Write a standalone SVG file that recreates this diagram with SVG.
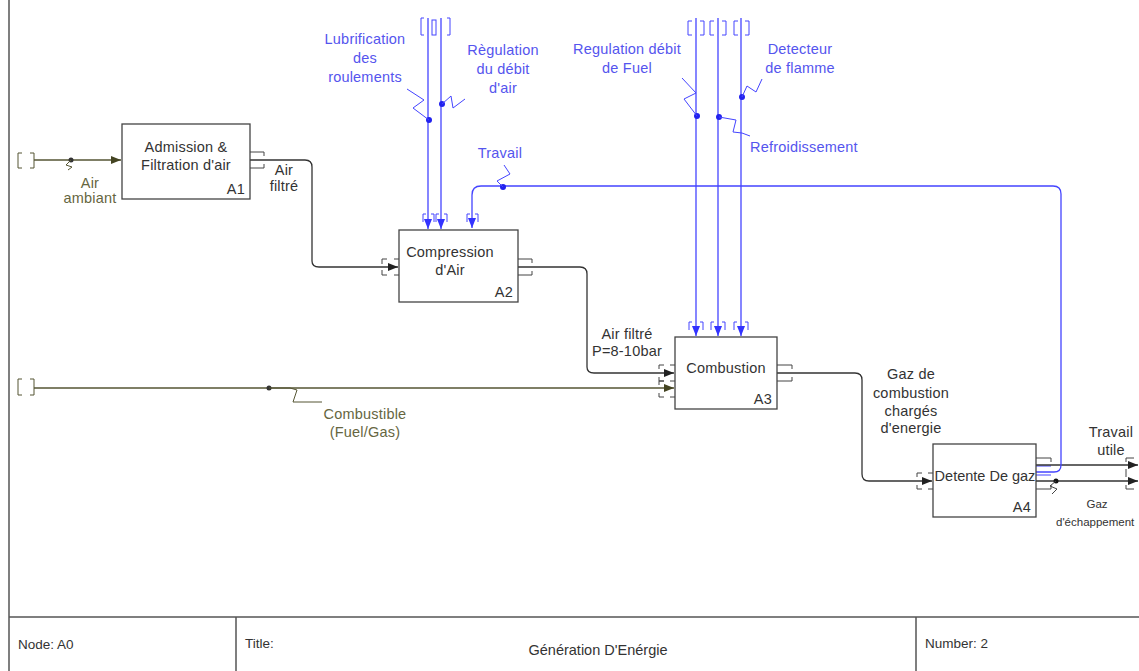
<svg xmlns="http://www.w3.org/2000/svg" width="1139" height="671" viewBox="0 0 1139 671">
<style>
text{font-family:"Liberation Sans",Arial,sans-serif;font-size:14.5px;letter-spacing:0.2px;}
.t{fill:#333;text-anchor:middle;}
.b{fill:#5555ee;text-anchor:middle;}
.o{fill:#66663f;text-anchor:middle;}
.s{font-size:13.5px;letter-spacing:0;fill:#333;}
.box{fill:#fff;stroke:#444;stroke-width:1.3;}
.k{fill:none;stroke:#333;stroke-width:1.3;}
.bl{fill:none;stroke:#4444ff;stroke-width:1.3;}
.ol{fill:none;stroke:#555533;stroke-width:1.5;}
.bk{fill:none;stroke:#444;stroke-width:1;}
.bb{fill:none;stroke:#4444ff;stroke-width:1;}
.bo{fill:none;stroke:#555533;stroke-width:1;}
.fr{fill:none;stroke:#555;stroke-width:1.5;}
</style>
<defs>
<marker id="ak" markerWidth="10" markerHeight="8" refX="10" refY="4" orient="auto" markerUnits="userSpaceOnUse"><path d="M0,0 L10,4 L0,8 Z" fill="#222"/></marker>
<marker id="ab" markerWidth="10" markerHeight="8" refX="10" refY="4" orient="auto" markerUnits="userSpaceOnUse"><path d="M0,0 L10,4 L0,8 Z" fill="#3333ff"/></marker>
<marker id="ao" markerWidth="10" markerHeight="8" refX="10" refY="4" orient="auto" markerUnits="userSpaceOnUse"><path d="M0,0 L10,4 L0,8 Z" fill="#444422"/></marker>
</defs>

<g id="frame">
<line class="fr" x1="9" y1="0" x2="9" y2="671"/>
<line class="fr" x1="9" y1="617" x2="1139" y2="617"/>
<line class="fr" x1="236" y1="617" x2="236" y2="671"/>
<line class="fr" x1="916" y1="617" x2="916" y2="671"/>
<text class="s" x="18" y="649">Node:  A0</text>
<text class="s" x="245" y="648">Title:</text>
<text class="s" x="598" y="655" style="font-size:14.5px;text-anchor:middle">Génération D'Enérgie</text>
<text class="s" x="925" y="648">Number: 2</text>
</g>

<g id="connectors">
<!-- Air ambiant -->
<path class="bo" d="M22,153 h-4 v15 h4 M30,153 h4 v15 h-4"/>
<path class="ol" d="M34,160 H121" marker-end="url(#ao)"/>
<circle cx="71" cy="160" r="2.5" fill="#333"/>
<path class="bo" d="M71,160 L66,165 L72,167 L68,170"/>
<!-- Air filtre A1->A2 -->
<path class="bk" d="M250,152 h14 v4 M250,168 h14 v-4"/>
<path class="k" d="M250,160 H305 Q312,160 312,167 V261 Q312,267 319,267 H398" marker-end="url(#ak)"/>
<path class="bk" d="M387,259 h-5 v5 M387,275 h-5 v-5 M394,259 h5 M394,275 h5"/>
<!-- A2 -> A3 -->
<path class="bk" d="M518,259 h14 v4 M518,275 h14 v-4"/>
<path class="k" d="M518,267 H580 Q587,267 587,274 V367 Q587,373 594,373 H674" marker-end="url(#ak)"/>
<path class="bk" d="M664,365 h-5 v4 M664,381 h-5 v-4 M670,365 h5 M670,381 h5 M664,381 h-5 v4 M664,397 h-5 v-4 M670,397 h5"/>
<!-- Combustible -->
<path class="bo" d="M22,379 h-4 v16 h4 M30,379 h4 v16 h-4"/>
<path class="ol" d="M34,388 H674" marker-end="url(#ao)"/>
<circle cx="269" cy="388" r="2.5" fill="#333"/>
<path class="bo" d="M269,388 H290 L297,390 L293,402 H322"/>
<!-- A3 -> A4 -->
<path class="bk" d="M777,365 h15 v4 M777,381 h15 v-4"/>
<path class="k" d="M777,373 H855 Q862,373 862,380 V474 Q862,481 869,481 H932" marker-end="url(#ak)"/>
<path class="bk" d="M922,473 h-5 v4 M922,489 h-5 v-4 M928,473 h5 M928,489 h5"/>
<!-- A4 outputs -->
<path class="bk" d="M1036,458 h15 v4 M1036,489 h15 v-4"/>
<path class="bb" d="M1036,466 h15 M1036,475 h15"/>
<path class="k" d="M1036,465 H1138" marker-end="url(#ak)"/>
<path class="k" d="M1036,481 H1138" marker-end="url(#ak)"/>
<path class="bk" d="M1126,458 h8 M1126,458 v4 M1126,489 h8 M1126,489 v-4 M1126,473 v-4 M1126,473 v4"/>
<circle cx="1056" cy="481" r="2.5" fill="#111"/>
<path class="bk" d="M1056,481 L1050,486 L1057,489 L1052,494"/>
<!-- Travail (blue feedback) -->
<path class="bl" d="M1036,472 H1054 Q1061,472 1061,465 V194 Q1061,186 1053,186 H481 Q472,186 472,195 V228" marker-end="url(#ab)"/>
<circle cx="503" cy="187" r="3" fill="#2222ee"/>
<path class="bb" d="M503,187 L497,181 L510,174 L504,165"/>
<path class="bb" d="M467,222 v-8 h3 M478,222 v-8 h-3"/>
<!-- A2 controls -->
<path class="bb" d="M424,18 h-3 v17 h3 M447,18 h3 v17 h-3"/>
<rect x="432" y="20" width="4" height="15" fill="none" stroke="#4444ff" stroke-width="1"/>
<path class="bl" d="M428,18 V229" marker-end="url(#ab)"/>
<path class="bl" d="M441,18 V229" marker-end="url(#ab)"/>
<path class="bb" d="M423,222 v-8 h3 M434,222 v-8 h-3 M436,222 v-8 h3 M447,222 v-8 h-3"/>
<circle cx="429" cy="120" r="3" fill="#2222ee"/>
<path class="bb" d="M407,89 L424,100 L413,108 L429,120"/>
<circle cx="442" cy="104" r="3" fill="#2222ee"/>
<path class="bb" d="M442,104 L451,96 L453,108 L465,99"/>
<!-- A3 controls -->
<path class="bb" d="M692,21 h-4 v14 h4 M700,21 h4 v14 h-4 M714,21 h-4 v14 h4 M722,21 h4 v14 h-4 M738,21 h-4 v14 h4 M745,21 h4 v14 h-4"/>
<path class="bl" d="M696,18 V336" marker-end="url(#ab)"/>
<path class="bl" d="M718,18 V336" marker-end="url(#ab)"/>
<path class="bl" d="M741,18 V336" marker-end="url(#ab)"/>
<path class="bb" d="M689,330 v-8 h3 M703,330 v-8 h-3 M711,330 v-8 h3 M725,330 v-8 h-3 M734,330 v-8 h3 M748,330 v-8 h-3"/>
<circle cx="697" cy="116" r="3" fill="#2222ee"/>
<path class="bb" d="M682,78 L696,93 L684,99 L697,116"/>
<circle cx="719" cy="117" r="3" fill="#2222ee"/>
<path class="bb" d="M719,117 L736,120 L733,132 L742,133 L750,136"/>
<circle cx="742" cy="97" r="3" fill="#2222ee"/>
<path class="bb" d="M742,97 L747,86 L756,92 L762,79"/>
</g>

<g id="A1">
<rect class="box" x="122" y="124" width="128" height="75"/>
<text class="t" x="186" y="152">Admission &amp;</text>
<text class="t" x="186" y="170">Filtration d'air</text>
<text x="245" y="194" fill="#333" text-anchor="end">A1</text>
</g>
<g id="A2">
<rect class="box" x="399" y="230" width="119" height="72"/>
<text class="t" x="450" y="257">Compression</text>
<text class="t" x="450" y="275">d'Air</text>
<text x="513" y="297" fill="#333" text-anchor="end">A2</text>
</g>
<g id="A3">
<rect class="box" x="675" y="337" width="102" height="72"/>
<text class="t" x="726" y="373">Combustion</text>
<text x="772" y="404" fill="#333" text-anchor="end">A3</text>
</g>
<g id="A4">
<rect class="box" x="933" y="444" width="103" height="73"/>
<text class="t" x="985" y="481" style="letter-spacing:0">Detente De gaz</text>
<text x="1031" y="512" fill="#333" text-anchor="end">A4</text>
</g>

<g id="labels">
<text class="o" x="90" y="188">Air</text>
<text class="o" x="90" y="203">ambiant</text>
<text class="t" x="284" y="175">Air</text>
<text class="t" x="284" y="191">filtré</text>
<text class="t" x="627" y="339">Air filtré</text>
<text class="t" x="627" y="356">P=8-10bar</text>
<text class="o" x="365" y="419">Combustible</text>
<text class="o" x="365" y="437">(Fuel/Gas)</text>
<text class="t" x="911" y="379">Gaz de</text>
<text class="t" x="911" y="398">combustion</text>
<text class="t" x="911" y="416">chargés</text>
<text class="t" x="911" y="433">d'energie</text>
<text class="t" x="1111" y="437">Travail</text>
<text class="t" x="1111" y="455">utile</text>
<text class="t" x="1097" y="508" style="font-size:11.5px;letter-spacing:0">Gaz</text>
<text x="1056" y="526" fill="#333" style="font-size:11.5px;letter-spacing:0">d'échappement</text>
<text class="b" x="365" y="44">Lubrification</text>
<text class="b" x="365" y="63">des</text>
<text class="b" x="365" y="82">roulements</text>
<text class="b" x="503" y="55">Règulation</text>
<text class="b" x="503" y="74">du débit</text>
<text class="b" x="503" y="93">d'air</text>
<text class="b" x="500" y="158">Travail</text>
<text class="b" x="627" y="54">Regulation débit</text>
<text class="b" x="627" y="73">de Fuel</text>
<text class="b" x="800" y="54">Detecteur</text>
<text class="b" x="800" y="73">de flamme</text>
<text x="750" y="152" fill="#5555ee">Refroidissement</text>
</g>
</svg>
